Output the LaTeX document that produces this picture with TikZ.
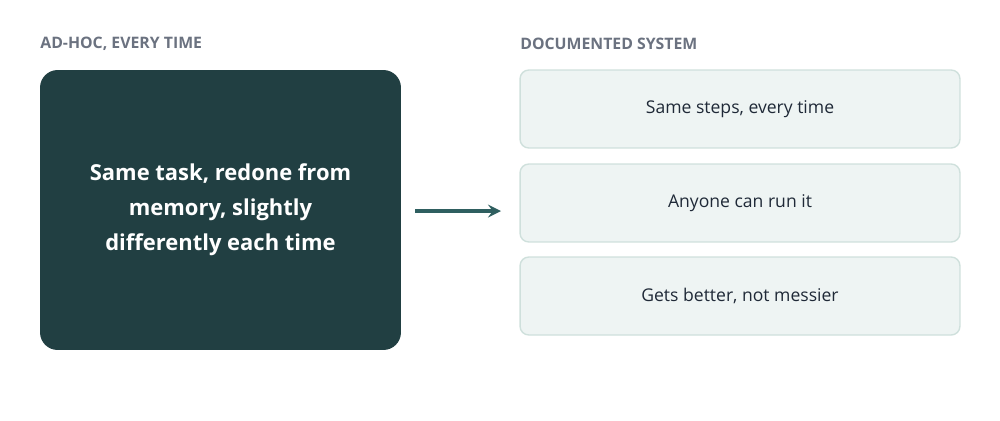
\documentclass[tikz,border=0pt]{standalone}
\usepackage{fontspec}
\setmainfont{Open Sans}
\usetikzlibrary{positioning}
\definecolor{darkteal}{HTML}{213F42}
\definecolor{arrowteal}{HTML}{2F5F60}
\definecolor{headgray}{HTML}{6B7280}
\definecolor{stepfill}{HTML}{EEF4F3}
\definecolor{stepline}{HTML}{CFE0DC}
\definecolor{steptext}{HTML}{1F2937}
\begin{document}
\begin{tikzpicture}[x=0.02cm,y=-0.02cm,
  heading/.style={anchor=west, text=headgray, font=\bfseries\fontsize{9}{11}\selectfont},
  stepbox/.style={draw=stepline, line width=0.8pt, fill=stepfill, rounded corners=5pt,
    minimum width=8.8cm, minimum height=1.56cm, text=steptext, font=\fontsize{10}{12}\selectfont}]
% Canvas
\useasboundingbox (0,0) rectangle (1000,420);

% Headings
\node[heading, inner sep=0pt] (adhoc) at (40,44) {AD-HOC, EVERY TIME};
\node[heading, inner sep=0pt] (documented) at (520,44) {DOCUMENTED SYSTEM};

% Left box
\node[fill=darkteal, rounded corners=10pt, minimum width=7.22cm, minimum height=5.6cm,
  text=white, align=center, font=\bfseries\fontsize{12.5}{20}\selectfont] (task) at (220.5,210)
  {Same task, redone from\\memory, slightly\\differently each time};

% Right boxes
\node[stepbox] (same) at (740,109) {Same steps, every time};
\node[stepbox] (anyone) at (740,203) {Anyone can run it};
\node[stepbox] (better) at (740,296) {Gets better, not messier};

% Arrow
\coordinate (start) at (415,211);
\coordinate (end) at (501,211);
\draw[arrowteal, line width=2.2pt, -stealth] (start) -- (end);
\end{tikzpicture}
\end{document}
